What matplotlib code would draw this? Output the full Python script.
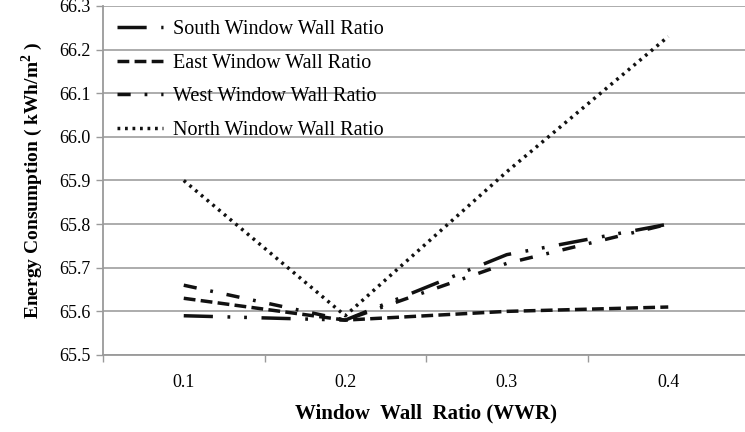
import matplotlib
matplotlib.use("Agg")
import matplotlib.pyplot as plt
from matplotlib.ticker import FixedLocator, NullFormatter, FixedFormatter

# Window-wall ratio categories and annual energy use per orientation (kWh/m2)
wwr_labels = ["0.1", "0.2", "0.3", "0.4"]
south = [65.59, 65.58, 65.73, 65.80]
east = [65.63, 65.58, 65.60, 65.61]
west = [65.66, 65.58, 65.71, 65.80]
north = [65.90, 65.59, 65.92, 66.23]

y_ticks = [65.5, 65.6, 65.7, 65.8, 65.9, 66.0, 66.1, 66.2, 66.3]

plt.rcParams["font.family"] = ["Liberation Serif", "DejaVu Serif"]
plt.rcParams["lines.scale_dashes"] = False

W, H = 745, 432
fig = plt.figure(figsize=(W / 100, H / 100), dpi=100)
left, right, top, bottom = 103, 749, 6, 355
ax = fig.add_axes([left / W, 1 - bottom / H, (right - left) / W, (bottom - top) / H])

x = list(range(len(wwr_labels)))
lw = 2.5
ink = "#111111"
series = [
    ("South Window Wall Ratio", south, (0, (21.0, 10.5, 2.0, 10.0, 2.0, 10.5))),
    ("East Window Wall Ratio", east, (0, (8.5, 3.8))),
    ("West Window Wall Ratio", west, (0, (9.5, 10.0, 2.0, 10.0))),
    ("North Window Wall Ratio", north, (0, (2.0, 3.4))),
]
for name, vals, dash in series:
    ax.plot(x, vals, color=ink, lw=lw, linestyle=dash, label=name,
            dash_capstyle="butt", clip_on=False)

ax.set_xlim(-0.5, len(x) - 0.5)
ax.set_ylim(65.5, 66.3)
ax.set_yticks(y_ticks)
ax.set_yticklabels([f"{v:.1f}" for v in y_ticks])

# category boundaries carry the tick marks, labels sit at category centres
ax.xaxis.set_major_locator(FixedLocator([i - 0.5 for i in range(len(x) + 1)]))
ax.xaxis.set_major_formatter(NullFormatter())
ax.xaxis.set_minor_locator(FixedLocator(x))
ax.xaxis.set_minor_formatter(FixedFormatter(wwr_labels))
ax.tick_params(axis="x", which="major", length=5, color="#9a9a9a", width=1)
ax.tick_params(axis="x", which="minor", length=0, pad=14, labelsize=13)
ax.tick_params(axis="y", length=5, color="#9a9a9a", width=1, labelsize=13, pad=4)

ax.grid(axis="y", color="#a6a6a6", lw=1.3)
ax.set_axisbelow(True)
for s in ("top", "right"):
    ax.spines[s].set_visible(False)
for s in ("left", "bottom"):
    ax.spines[s].set_color("#9a9a9a")
    ax.spines[s].set_linewidth(1.3)

ax.set_xlabel("Window  Wall  Ratio (WWR)", fontsize=15, fontweight="bold", labelpad=9)
ax.set_ylabel("Energy Consumption ( kWh/m$^{\\mathregular{2}}$ )", fontsize=14,
              fontweight="bold", labelpad=10)

leg = ax.legend(loc="upper left", bbox_to_anchor=(0.0, 1.0), frameon=False,
                fontsize=14.5, handlelength=2.3, handletextpad=0.5,
                labelspacing=0.72, borderaxespad=0.3)

fig.savefig("out.png", dpi=100)
